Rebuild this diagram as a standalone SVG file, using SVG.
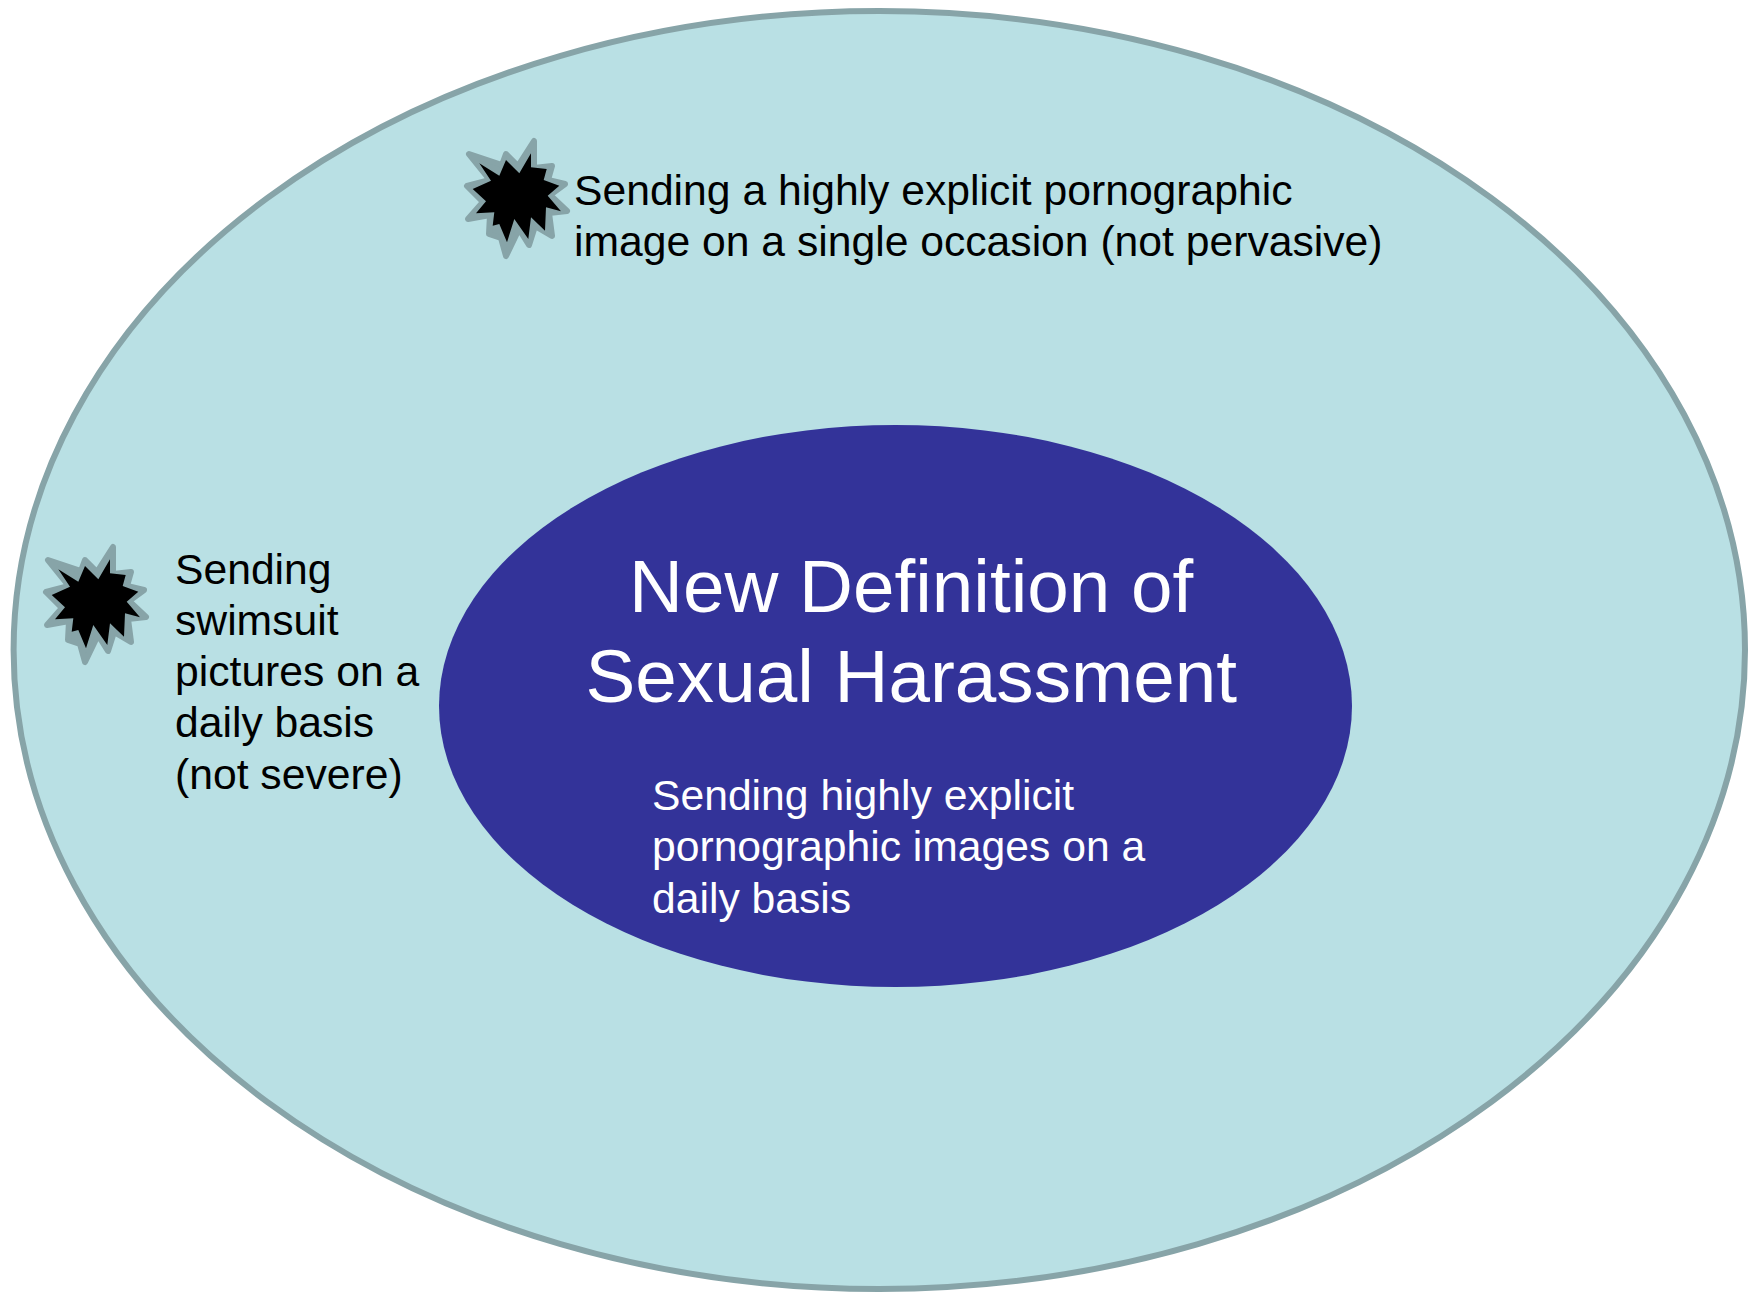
<svg xmlns="http://www.w3.org/2000/svg" width="1760" height="1293" viewBox="0 0 1760 1293">
<style>
text{font-family:"Liberation Sans",Arial,sans-serif}
.d{font-size:42.67px;fill:#000}
.w{font-size:42.67px;fill:#fff}
.t{font-size:74.67px;fill:#fff}
.g{fill:#87A4A8;stroke:#87A4A8;stroke-width:6;stroke-linejoin:round}
.k{fill:#000}
</style>
<defs>
<g id="burst">
<polygon class="g" points="48,560 81,571 85,560 97,572 113,547 113,574 131,572 127,586 144,590 129,601 146,617 128,619 131,642 114,632 108,651 98,635 85,662 80,644 68,640 69,621 47,625 62,608 46,592 69,586"/>
<polygon class="k" points="58.300,569.300 78.300,581.700 85,566 98.300,579.300 110,559.300 110,573.300 125.700,575 122.700,586 138.300,591.700 126.700,601.700 140,617.300 125,613.300 124,636.700 110,623.300 107.300,645 93.300,625 86,648.300 78.300,630 71.700,631.700 73.300,618.300 55,619.300 65,607.300 51.700,595 70,586.700"/>
</g>
</defs>
<rect width="1760" height="1293" fill="#fff"/>
<g id="outer"><ellipse cx="879.300" cy="650" rx="865.700" ry="639" fill="#B9E0E4" stroke="#87A4A8" stroke-width="6"/></g>
<g id="inner"><ellipse cx="895.500" cy="706" rx="456.500" ry="281" fill="#333399"/>
<text class="t" x="629" y="612">New Definition of</text>
<text class="t" x="585.500" y="701.500">Sexual Harassment</text>
<text class="w" x="652" y="810">Sending highly explicit</text>
<text class="w" x="652" y="861">pornographic images on a</text>
<text class="w" x="652" y="913">daily basis</text></g>
<g id="item-top"><use href="#burst" transform="translate(421,-406)"/>
<text class="d" x="574" y="205">Sending a highly explicit pornographic</text>
<text class="d" x="574" y="256">image on a single occasion (not pervasive)</text></g>
<g id="item-left"><use href="#burst"/>
<text class="d" x="175" y="584">Sending</text>
<text class="d" x="175" y="635">swimsuit</text>
<text class="d" x="175" y="686">pictures on a</text>
<text class="d" x="175" y="737">daily basis</text>
<text class="d" x="175" y="789">(not severe)</text></g>
<g id="connectors"></g>
</svg>
